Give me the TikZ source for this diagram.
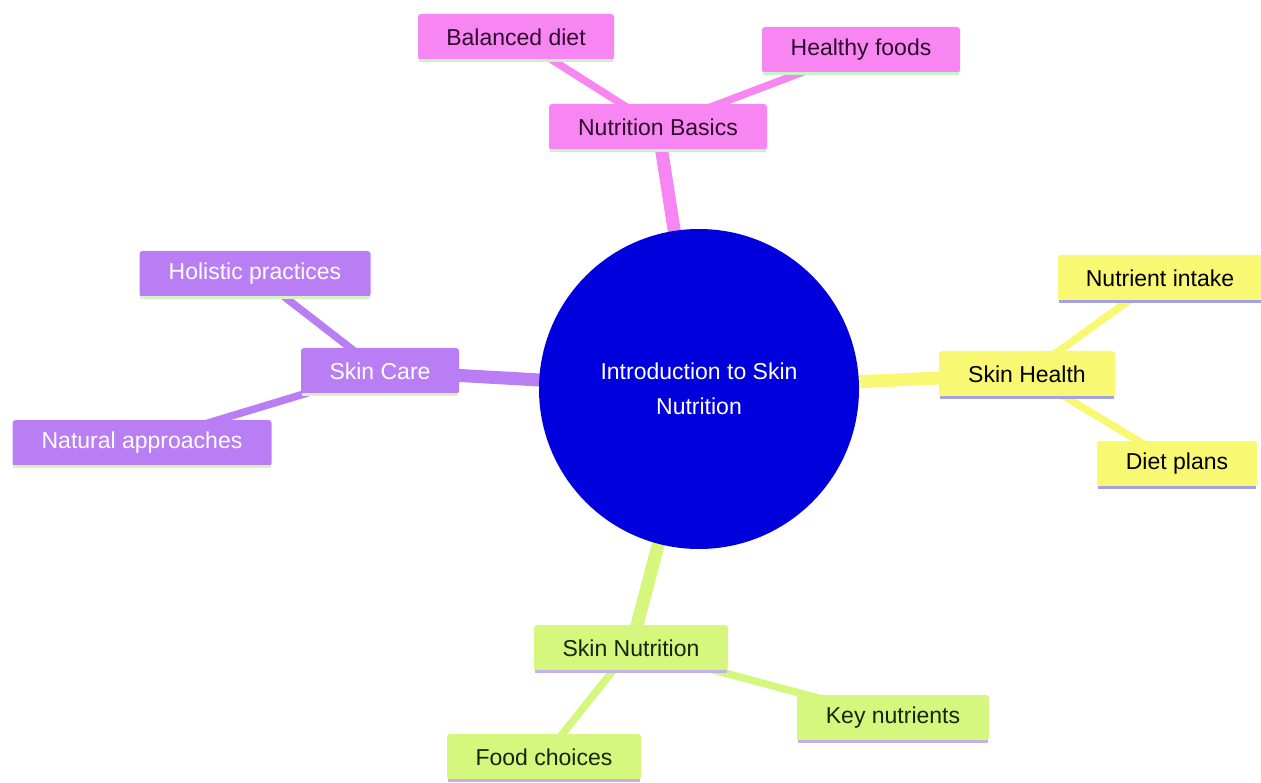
\documentclass[tikz,border=0pt]{standalone}
\usepackage{fontspec}
\setmainfont{Liberation Sans}
\definecolor{pinkF}{HTML}{F886F2}
\definecolor{pinkT}{HTML}{2E0A2C}
\definecolor{pinkU}{HTML}{C8F2C8}
\definecolor{purpF}{HTML}{B97EF3}
\definecolor{purpU}{HTML}{D6F2C6}
\definecolor{yellF}{HTML}{F8F872}
\definecolor{yellU}{HTML}{A4A2E2}
\definecolor{grnF}{HTML}{D6F77D}
\definecolor{grnT}{HTML}{16260A}
\definecolor{grnU}{HTML}{C6AEE6}
\definecolor{rootF}{HTML}{0000DD}
\begin{document}
\begin{tikzpicture}[x=1pt,y=-1pt,
  every node/.style={font=\fontsize{23}{27}\selectfont, inner sep=0pt},
  mbox/.style={rectangle, rounded corners=3pt, minimum height=46pt},
  pinkbox/.style={mbox, fill=pinkF, text=pinkT},
  purpbox/.style={mbox, fill=purpF, text=white},
  yellbox/.style={mbox, fill=yellF, text=black},
  grnbox/.style={mbox, fill=grnF, text=grnT},
  mainedge/.style={line width=13pt},
  subedge/.style={line width=7.5pt},
  uline/.style={line width=3pt}]
\useasboundingbox (0,0) rectangle (1261,783);

% coordinates of node centres
\coordinate (cR) at (699,389);
\coordinate (cNB) at (658,127);
\coordinate (cBD) at (516,37);
\coordinate (cHF) at (861,50);
\coordinate (cSC) at (380,371);
\coordinate (cHP) at (255,274);
\coordinate (cNA) at (142,443);
\coordinate (cSH) at (1027,374);
\coordinate (cNI) at (1160,278);
\coordinate (cDP) at (1177,464);
\coordinate (cSN) at (631,648);
\coordinate (cKN) at (893,718);
\coordinate (cFC) at (544,757);

% edges (drawn under nodes)
\draw[mainedge, pinkF] (cR) -- (cNB);
\draw[mainedge, purpF] (cR) -- (cSC);
\draw[mainedge, yellF] (cR) -- (cSH);
\draw[mainedge, grnF] (cR) -- (cSN);
\draw[subedge, pinkF] (cNB) -- (cBD);
\draw[subedge, pinkF] (cNB) -- (cHF);
\draw[subedge, purpF] (cSC) -- (cHP);
\draw[subedge, purpF] (cSC) -- (cNA);
\draw[subedge, yellF] (cSH) -- (cNI);
\draw[subedge, yellF] (cSH) -- (cDP);
\draw[subedge, grnF] (cSN) -- (cKN);
\draw[subedge, grnF] (cSN) -- (cFC);

% root
\node[circle, fill=rootF, minimum size=320pt, text=white, align=center,
  font=\fontsize{23}{35}\selectfont] (root) at (cR) {Introduction to Skin\\Nutrition};

% pink
\node[pinkbox, minimum width=218pt] (nb) at (cNB) {Nutrition Basics};
\node[pinkbox, minimum width=196pt] (bd) at (cBD) {Balanced diet};
\node[pinkbox, minimum width=198pt] (hf) at (cHF) {Healthy foods};
% purple
\node[purpbox, minimum width=158pt] (sc) at (cSC) {Skin Care};
\node[purpbox, minimum width=231pt] (hp) at (cHP) {Holistic practices};
\node[purpbox, minimum width=259pt] (na) at (cNA) {Natural approaches};
% yellow
\node[yellbox, minimum width=176pt] (sh) at (cSH) {Skin Health};
\node[yellbox, minimum width=204pt] (ni) at (cNI) {Nutrient intake};
\node[yellbox, minimum width=160pt] (dp) at (cDP) {Diet plans};
% green
\node[grnbox, minimum width=194pt] (sn) at (cSN) {Skin Nutrition};
\node[grnbox, minimum width=192pt] (kn) at (cKN) {Key nutrients};
\node[grnbox, minimum width=194pt] (fc) at (cFC) {Food choices};

% bottom lines of boxes
\foreach \n/\c in {nb/pinkU, bd/pinkU, hf/pinkU, sc/purpU, hp/purpU, na/purpU,
  sh/yellU, ni/yellU, dp/yellU, sn/grnU, kn/grnU, fc/grnU}
  \draw[uline, \c] ([xshift=1pt]\n.south west) -- ([xshift=-1pt]\n.south east);
\end{tikzpicture}
\end{document}
